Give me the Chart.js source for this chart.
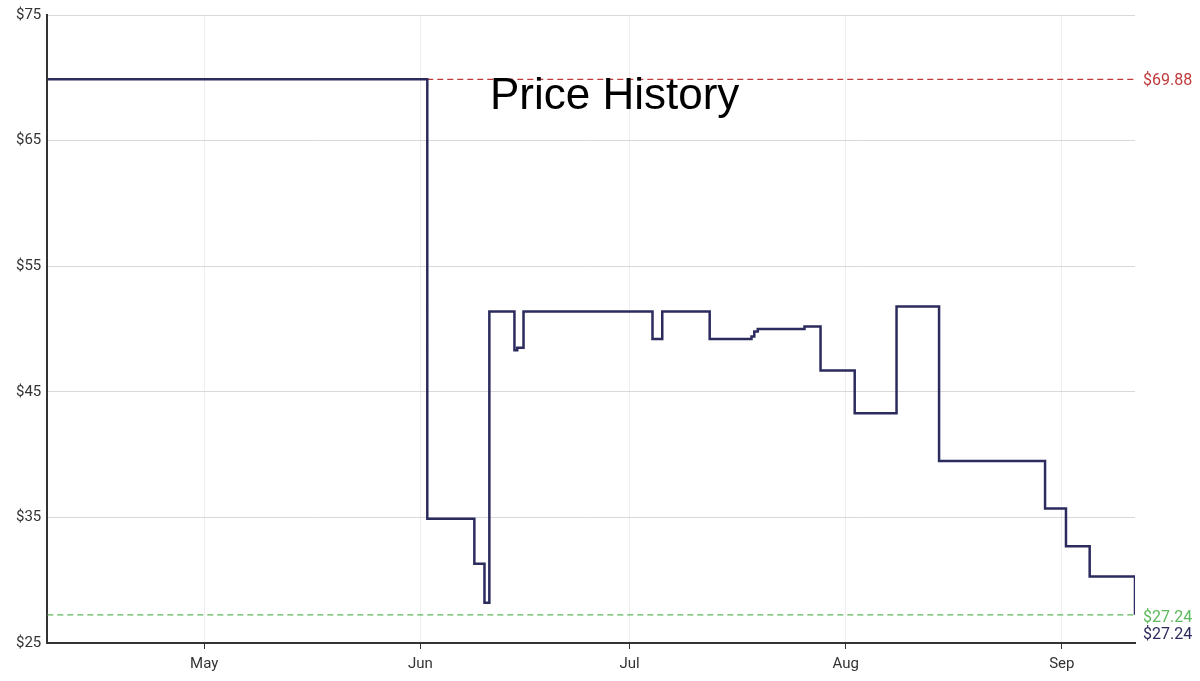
<!DOCTYPE html>
<html><head><meta charset="utf-8">
<script src="https://cdn.jsdelivr.net/npm/chart.js@4"></script>
<style>html,body{margin:0;padding:0;background:#fff}#w{width:1200px;height:681px}</style>
</head><body><div id="w"><canvas id="c"></canvas></div>
<script>
// day-of-year (2023) and price
const days   = [98.5,153.0,159.75,161.2,161.9,165.5,165.9,166.8,185.3,186.7,193.5,199.5,199.9,200.4,207.1,209.4,214.3,220.3,226.4,241.6,244.6,248.0,254.4,254.5];
const prices = [69.88,34.9,31.3,28.2,51.4,48.3,48.5,51.4,49.2,51.4,49.2,49.4,49.8,50.0,50.2,46.7,43.3,51.8,39.5,35.7,32.7,30.3,30.3,27.24];
const monthDays   = [121,152,182,213,244];
const monthLabels = ['May','Jun','Jul','Aug','Sep'];
const highPrice = 69.88, lowPrice = 27.24, currentPrice = 27.24;

const pts = days.map((d,i)=>({x:d,y:prices[i]}));
const xMin = 98.5, xMax = 254.5;

const overlay = {
  id:'overlay',
  afterDraw(chart){
    const {ctx, chartArea:a, scales:{x,y}} = chart;
    ctx.save();
    ctx.font = '16px Roboto';
    ctx.textAlign='left'; ctx.textBaseline='middle';
    ctx.fillStyle='#c0393b'; ctx.fillText('$'+highPrice.toFixed(2), a.right+8, y.getPixelForValue(highPrice)+2);
    ctx.fillStyle='#5cb85c'; ctx.fillText('$'+lowPrice.toFixed(2), a.right+8, y.getPixelForValue(lowPrice)+3);
    ctx.fillStyle='#2b2b5e'; ctx.fillText('$'+currentPrice.toFixed(2), a.right+8, y.getPixelForValue(lowPrice)+20);
    ctx.font='44px "Liberation Sans", Arial';
    ctx.fillStyle='#000'; ctx.textAlign='left';
    ctx.fillText('Price History', 490, 97);
    ctx.restore();
  }
};

new Chart(document.getElementById('c'), {
  type:'line',
  data:{datasets:[
    {data:pts, stepped:true, borderColor:'#2b2b5e', borderWidth:2.5, pointRadius:0, fill:false, order:0},
    {data:[{x:xMin,y:highPrice},{x:xMax,y:highPrice}], borderColor:'#c0393b', borderWidth:1.2, borderDash:[6,4], pointRadius:0, order:1},
    {data:[{x:xMin,y:lowPrice},{x:xMax,y:lowPrice}], borderColor:'#5cb85c', borderWidth:1.2, borderDash:[6,4], pointRadius:0, order:1}
  ]},
  options:{
    responsive:true, maintainAspectRatio:false, animation:false,
    layout:{padding:{left:10,right:65,top:4,bottom:2}},
    plugins:{legend:{display:false}, tooltip:{enabled:false}},
    scales:{
      x:{type:'linear', min:xMin, max:xMax,
        afterBuildTicks(s){ s.ticks = monthDays.map(v=>({value:v})); },
        ticks:{callback:(v)=>monthLabels[monthDays.indexOf(v)]||'', color:'#333', font:{family:'Roboto',size:15}, maxRotation:0, padding:6},
        grid:{color:'#eeeeee', tickColor:'#333', tickLength:6},
        border:{color:'#333', width:2}
      },
      y:{min:25, max:75,
        ticks:{stepSize:10, callback:v=>'$'+v, color:'#333', font:{family:'Roboto',size:15}, padding:6},
        grid:{color:'#d9d9d9', drawTicks:false},
        border:{color:'#333', width:2}
      }
    }
  },
  plugins:[overlay]
});
</script></body></html>
